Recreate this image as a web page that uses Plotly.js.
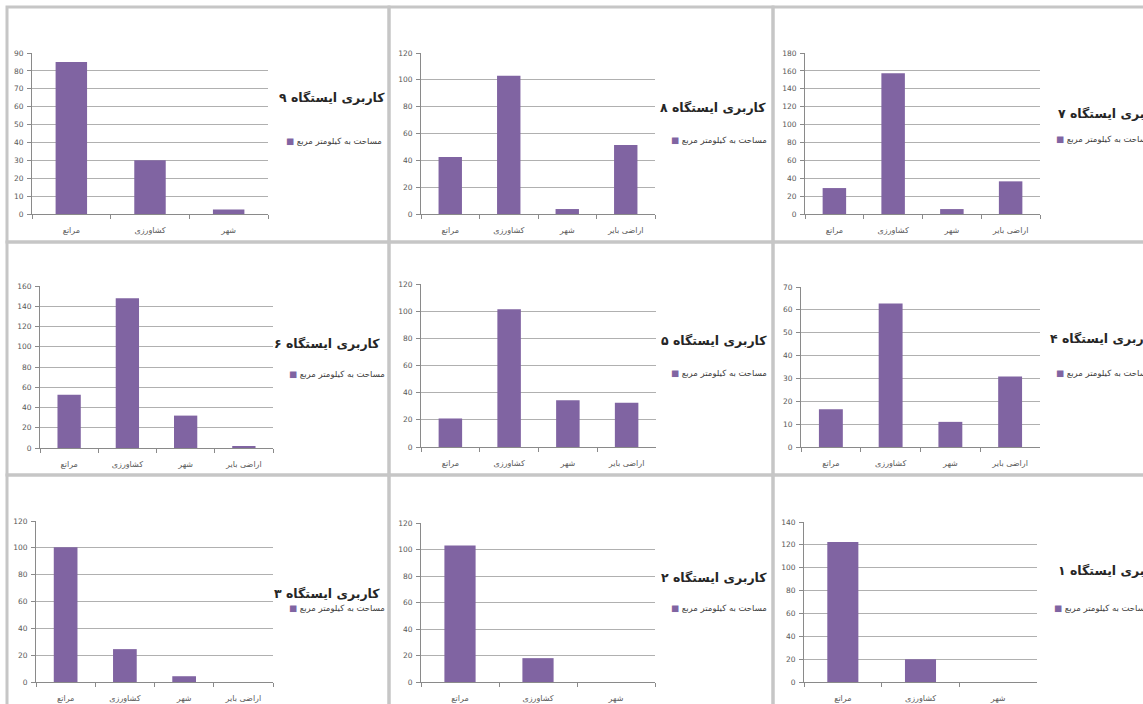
<!DOCTYPE html>
<html>
<head>
<meta charset="utf-8">
<script src="https://cdn.plot.ly/plotly-3.0.1.min.js"></script>
<style>html,body{margin:0;padding:0;background:#fff;}#chart{width:1143px;height:704px;}</style>
</head>
<body>
<div id="chart"></div>
<script>
// ---- data ----
const categories = ['مراتع', 'کشاورزی', 'شهر', 'اراضی بایر'];
const stationNumbers = ['۹', '۸', '۷', '۶', '۵', '۴', '۳', '۲', '۱'];
const station9 = [85, 30, 2.5];
const station8 = [42.5, 103, 3.7, 51.5];
const station7 = [29, 157.5, 5.5, 36.5];
const station6 = [52.5, 148, 32, 2];
const station5 = [21, 101.5, 34.5, 32.5];
const station4 = [16.5, 62.8, 11, 30.8];
const station3 = [100.5, 24.5, 4.3, 0];
const station2 = [103, 18, 0];
const station1 = [122.5, 19.8, 0];
const yMax = [90, 120, 180, 160, 120, 70, 120, 120, 140];
const yStep = [10, 20, 20, 20, 20, 10, 20, 20, 20];
const seriesName = 'مساحت به کیلومتر مربع';
const titlePrefix = 'کاربری ایستگاه ';

// ---- layout helpers ----
const W = 1143, H = 704;
const fx = p => p / W;
const fy = p => 1 - p / H;
const allValues = [station9, station8, station7, station6, station5, station4, station3, station2, station1];

// pixel geometry per panel: plot area [x0,x1,y0(top),y1(bottom)], title pos, legend pos
const geo = [
  {pa: [32, 268, 53, 214],  t: [332, 97, 'center'],  l: [284, 141]},
  {pa: [421, 655, 53, 214], t: [713, 107, 'center'], l: [669, 140]},
  {pa: [805, 1040, 53, 214], t: [1056, 113, 'left'], l: [1054, 139]},
  {pa: [40, 273, 286, 448], t: [327, 343, 'center'], l: [287, 374]},
  {pa: [421, 656, 284, 447], t: [714, 340, 'center'], l: [669, 373]},
  {pa: [801, 1040, 287, 447], t: [1048, 338, 'left'], l: [1054, 373]},
  {pa: [36, 273, 521, 682], t: [327, 593, 'center'], l: [287, 608]},
  {pa: [421, 655, 523, 682], t: [714, 577, 'center'], l: [669, 608]},
  {pa: [804, 1037, 522, 682], t: [1056, 570, 'left'], l: [1052, 608]}
];
const boxes = [
  [7, 389, 7, 242], [389, 773, 7, 242], [773, 1150, 7, 242],
  [7, 389, 242, 475], [389, 773, 242, 475], [773, 1150, 242, 475],
  [7, 389, 475, 712], [389, 773, 475, 712], [773, 1150, 475, 712]
];

const purple = '#8064a2';
const axisCol = '#8a8a8a';
const fontFam = '"DejaVu Sans", sans-serif';

const data = [];
const layout = {
  width: W, height: H,
  margin: {l: 0, r: 0, t: 0, b: 0, autoexpand: false},
  paper_bgcolor: '#ffffff', plot_bgcolor: 'rgba(0,0,0,0)',
  showlegend: false,
  shapes: [], annotations: [],
  font: {family: fontFam}
};

allValues.forEach((vals, i) => {
  const n = i + 1;
  const xa = n === 1 ? 'xaxis' : 'xaxis' + n;
  const ya = n === 1 ? 'yaxis' : 'yaxis' + n;
  const g = geo[i];
  const cats = categories.slice(0, vals.length);
  data.push({
    type: 'bar', x: cats, y: vals, name: seriesName,
    xaxis: 'x' + (n === 1 ? '' : n), yaxis: 'y' + (n === 1 ? '' : n),
    width: 0.4,
    marker: {color: purple, line: {width: 0}},
    hoverinfo: 'x+y'
  });
  layout[xa] = {
    domain: [fx(g.pa[0]), fx(g.pa[1])],
    anchor: 'y' + (n === 1 ? '' : n),
    type: 'category', range: [-0.5, cats.length - 0.5],
    tickson: 'boundaries', ticks: 'outside', ticklen: 4, tickcolor: axisCol, tickwidth: 1,
    showline: true, linecolor: axisCol, linewidth: 1, showgrid: false,
    tickfont: {family: fontFam, size: 8, color: '#595959'},
    ticklabelstandoff: 8, fixedrange: true
  };
  layout[ya] = {
    domain: [fy(g.pa[3]), fy(g.pa[2])],
    anchor: 'x' + (n === 1 ? '' : n),
    range: [0, yMax[i]], dtick: yStep[i], tick0: 0,
    ticks: 'outside', ticklen: 4, tickcolor: axisCol, tickwidth: 1,
    showline: true, linecolor: axisCol, linewidth: 1,
    showgrid: true, gridcolor: '#b0b0b0', gridwidth: 1, zeroline: false,
    tickfont: {family: fontFam, size: 7.5, color: '#595959'},
    ticklabelstandoff: 2, fixedrange: true
  };
  const b = boxes[i];
  layout.shapes.push({
    type: 'rect', xref: 'paper', yref: 'paper', layer: 'below',
    x0: fx(b[0]), x1: fx(b[1]), y0: fy(b[3]), y1: fy(b[2]),
    line: {color: '#c6c6c6', width: 3}, fillcolor: 'rgba(0,0,0,0)'
  });
  layout.annotations.push({
    xref: 'paper', yref: 'paper', x: fx(g.t[0]), y: fy(g.t[1]),
    xanchor: g.t[2], yanchor: 'middle', showarrow: false,
    text: '<b>' + titlePrefix + stationNumbers[i] + '</b>',
    font: {family: fontFam, size: 12.5, color: '#262626'}
  });
  layout.annotations.push({
    xref: 'paper', yref: 'paper', x: fx(g.l[0]), y: fy(g.l[1]),
    xanchor: 'left', yanchor: 'middle', showarrow: false,
    text: '<span style="color:' + purple + '">■</span> ' + seriesName,
    font: {family: fontFam, size: 8.5, color: '#404040'}
  });
});

Plotly.newPlot('chart', data, layout, {displayModeBar: false, staticPlot: true});
</script>
</body>
</html>
